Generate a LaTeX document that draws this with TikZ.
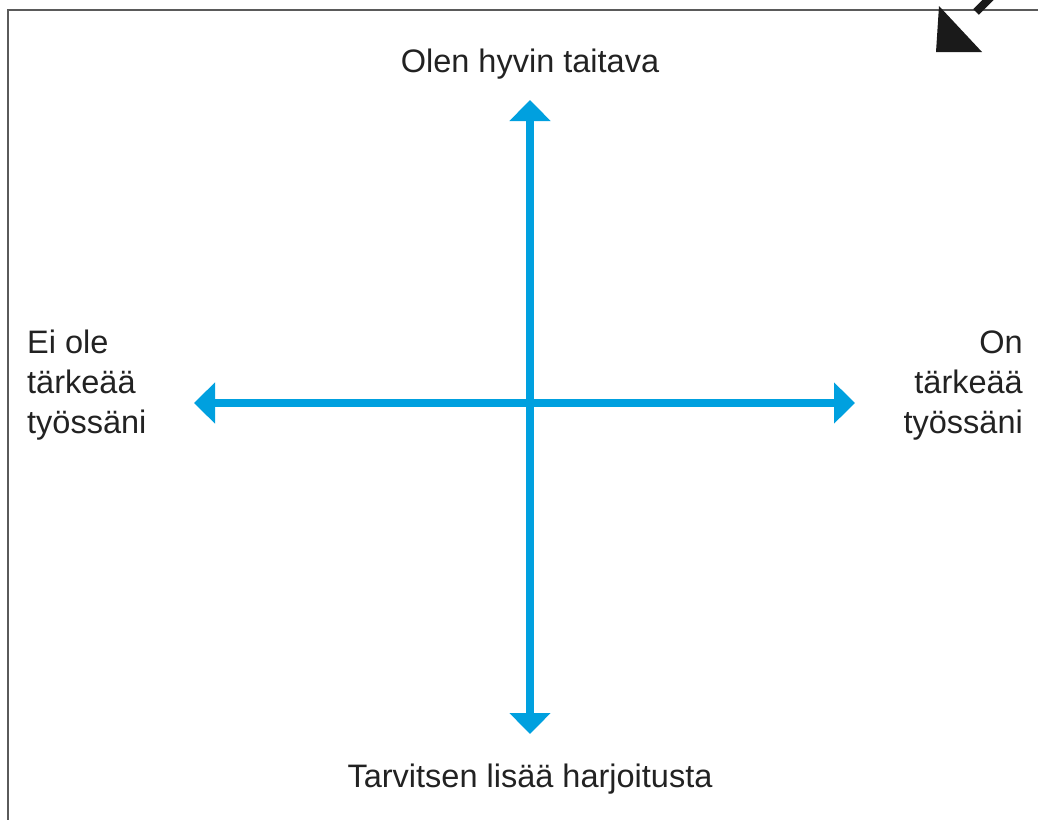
\documentclass[tikz,border=0pt]{standalone}
\usepackage{fontspec}
\setmainfont{Liberation Sans}
\usetikzlibrary{arrows.meta}
\definecolor{axisblue}{RGB}{0,160,223}
\definecolor{textgray}{RGB}{34,34,34}
\definecolor{framegray}{RGB}{90,90,90}
\definecolor{markblack}{RGB}{26,26,26}
\tikzset{
  axis/.style={draw=axisblue, line width=8pt, {Triangle[length=21pt,width=40pt]}-{Triangle[length=21pt,width=40pt]}},
  lbl/.style={text=textgray, font=\fontsize{32.5}{40}\selectfont, inner sep=0pt},
  frame/.style={draw=framegray, line width=2pt},
}
\begin{document}
\begin{tikzpicture}[x=1pt,y=-1pt]
\useasboundingbox (0,0) rectangle (1038,819);
\clip (0,0) rectangle (1038,819);
% frame
\coordinate (fbl) at (8,830);
\coordinate (ftl) at (8,10);
\coordinate (ftr) at (1050,10);
\draw[frame] (fbl) -- (ftl) -- (ftr);
% corner mark
\fill[markblack] (939,6) -- (936,52) -- (982,52) -- cycle;
\coordinate (ms) at (976,12);
\coordinate (me) at (1000,-12);
\draw[markblack, line width=8pt] (ms) -- (me);
% axes
\coordinate (T) at (530,100);
\coordinate (B) at (530,734);
\coordinate (L) at (194,403);
\coordinate (R) at (855,403);
\draw[axis] (L) -- (R);
\draw[axis] (B) -- (T);
% labels
\node[lbl, anchor=base] (top) at (530,72) {Olen hyvin taitava};
\node[lbl, anchor=base] (bot) at (530,787) {Tarvitsen lisää harjoitusta};
\node[lbl, anchor=base west, align=left] (left) at (27,433) {Ei ole\\tärkeää\\työssäni};
\node[lbl, anchor=base east, align=right] (right) at (1023,433) {On\\tärkeää\\työssäni};
\end{tikzpicture}
\end{document}
